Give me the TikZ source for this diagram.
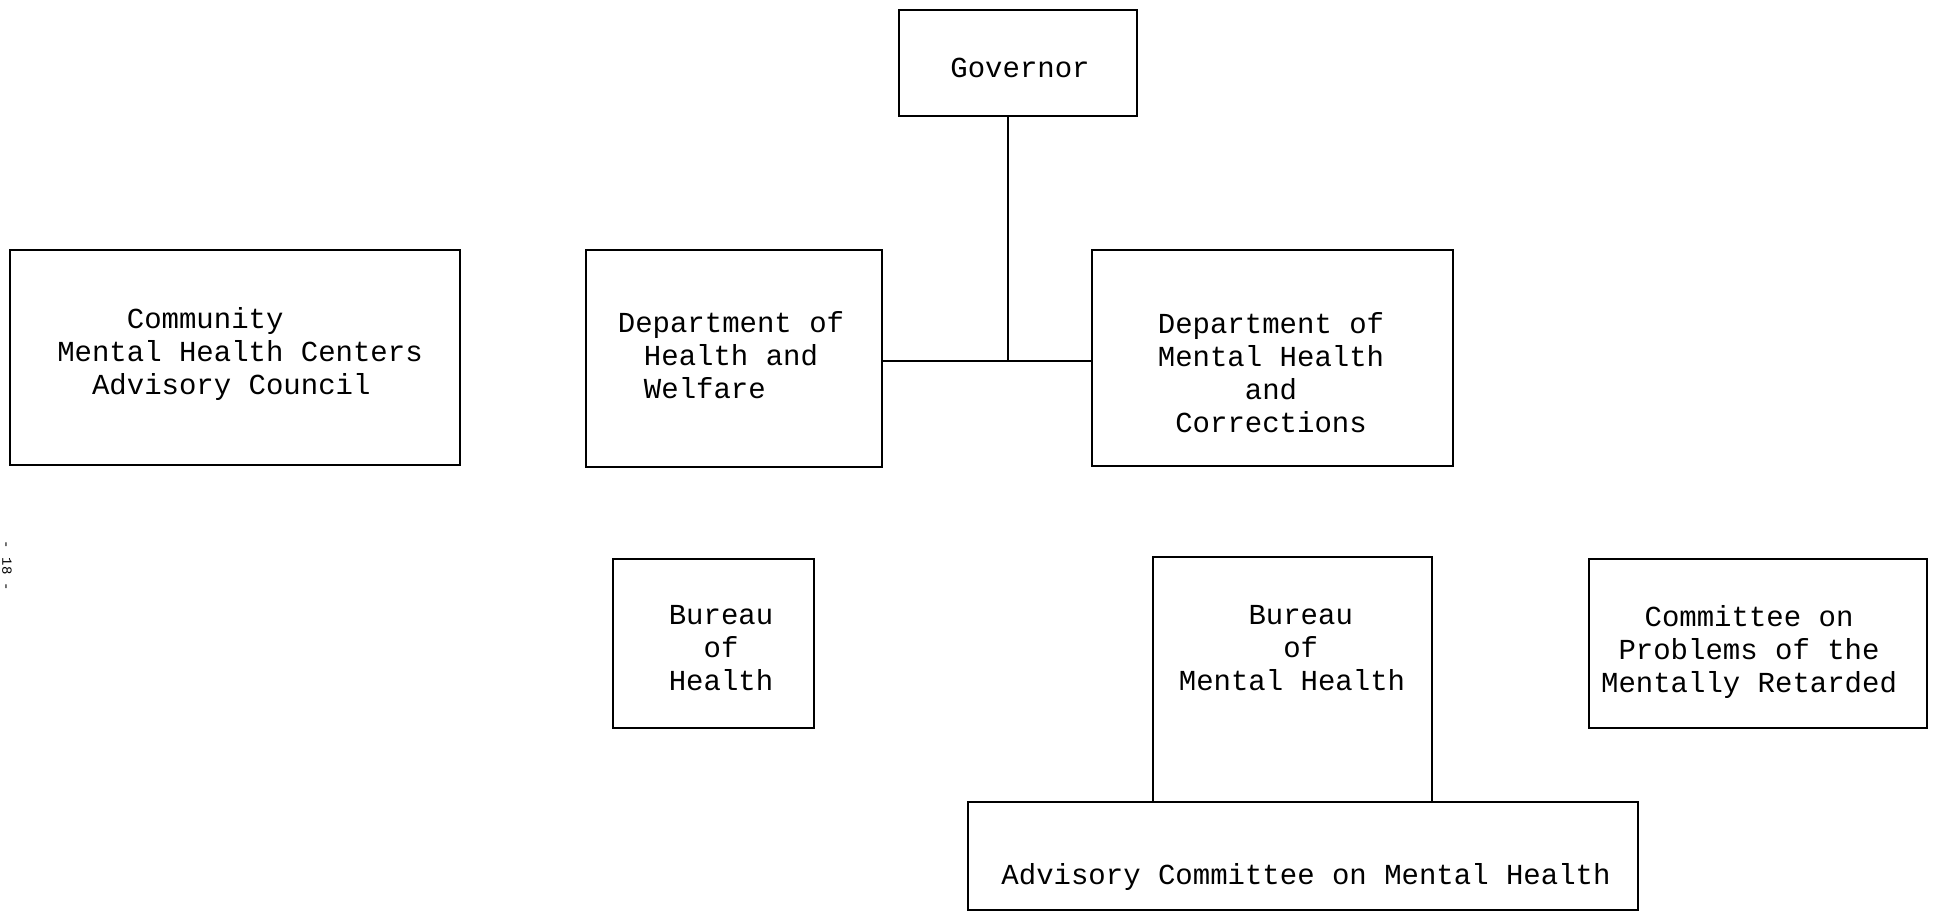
\documentclass[tikz,border=0pt]{standalone}
\usepackage{fontspec}
\setmonofont{Liberation Mono}
\usetikzlibrary{calc}
\begin{document}
\begin{tikzpicture}[x=1pt,y=-1pt,
  box/.style={draw, line width=1.6pt, inner sep=0pt},
  lbl/.style={font=\ttfamily\fontsize{29}{33}\selectfont, align=center, inner sep=0pt},
  link/.style={line width=1.6pt}]
\useasboundingbox (0,0) rectangle (1934,912);

% organisation boxes
\node[box, minimum width=238pt, minimum height=106pt] (gov)  at (1018,63)    {};
\node[box, minimum width=450pt, minimum height=215pt] (cmhc) at (235,357.5)  {};
\node[box, minimum width=296pt, minimum height=217pt] (hw)   at (734,358.5)  {};
\node[box, minimum width=361pt, minimum height=216pt] (mhc)  at (1272.5,358) {};
\node[box, minimum width=201pt, minimum height=169pt] (boh)  at (713.5,643.5){};
\node[box, minimum width=279pt, minimum height=245pt] (bmh)  at (1292.5,679.5){};
\node[box, minimum width=670pt, minimum height=108pt] (adv)  at (1303,856)   {};
\node[box, minimum width=338pt, minimum height=169pt] (cp)   at (1758,643.5) {};

% typed labels
\node[lbl] (govt)  at (1020,68)  {Governor};
\node[lbl] (cmhct) at (240,354)  {Community\hphantom{xxxx}\\Mental Health Centers\\Advisory Council\hphantom{x}};
\node[lbl] (hwt)   at (731,355)  {Department of\\Health and\\Welfare\hphantom{xxx}};
\node[lbl] (mhct)  at (1271,373) {Department of\\Mental Health\\and\\Corrections};
\node[lbl] (boht)  at (721,648)  {Bureau\\of\\Health};
\node[lbl] (bmht)  at (1292,648) {\hphantom{x}Bureau\\\hphantom{x}of\\Mental Health};
\node[lbl] (cpt)   at (1749,652) {Committee on\\Problems of the\\Mentally Retarded};
\node[lbl] (advt)  at (1306,877) {Advisory Committee on Mental Health};

% lines of authority
\coordinate (j) at (1008,361);
\draw[link] (gov.south -| j) -- (j);
\draw[link] (hw.east |- j) -- (mhc.west |- j);

% page number in the margin
\node[font=\ttfamily\fontsize{14}{14}\selectfont, rotate=-90, inner sep=0pt] (pg) at (7,566) {- 18 -};
\end{tikzpicture}
\end{document}
